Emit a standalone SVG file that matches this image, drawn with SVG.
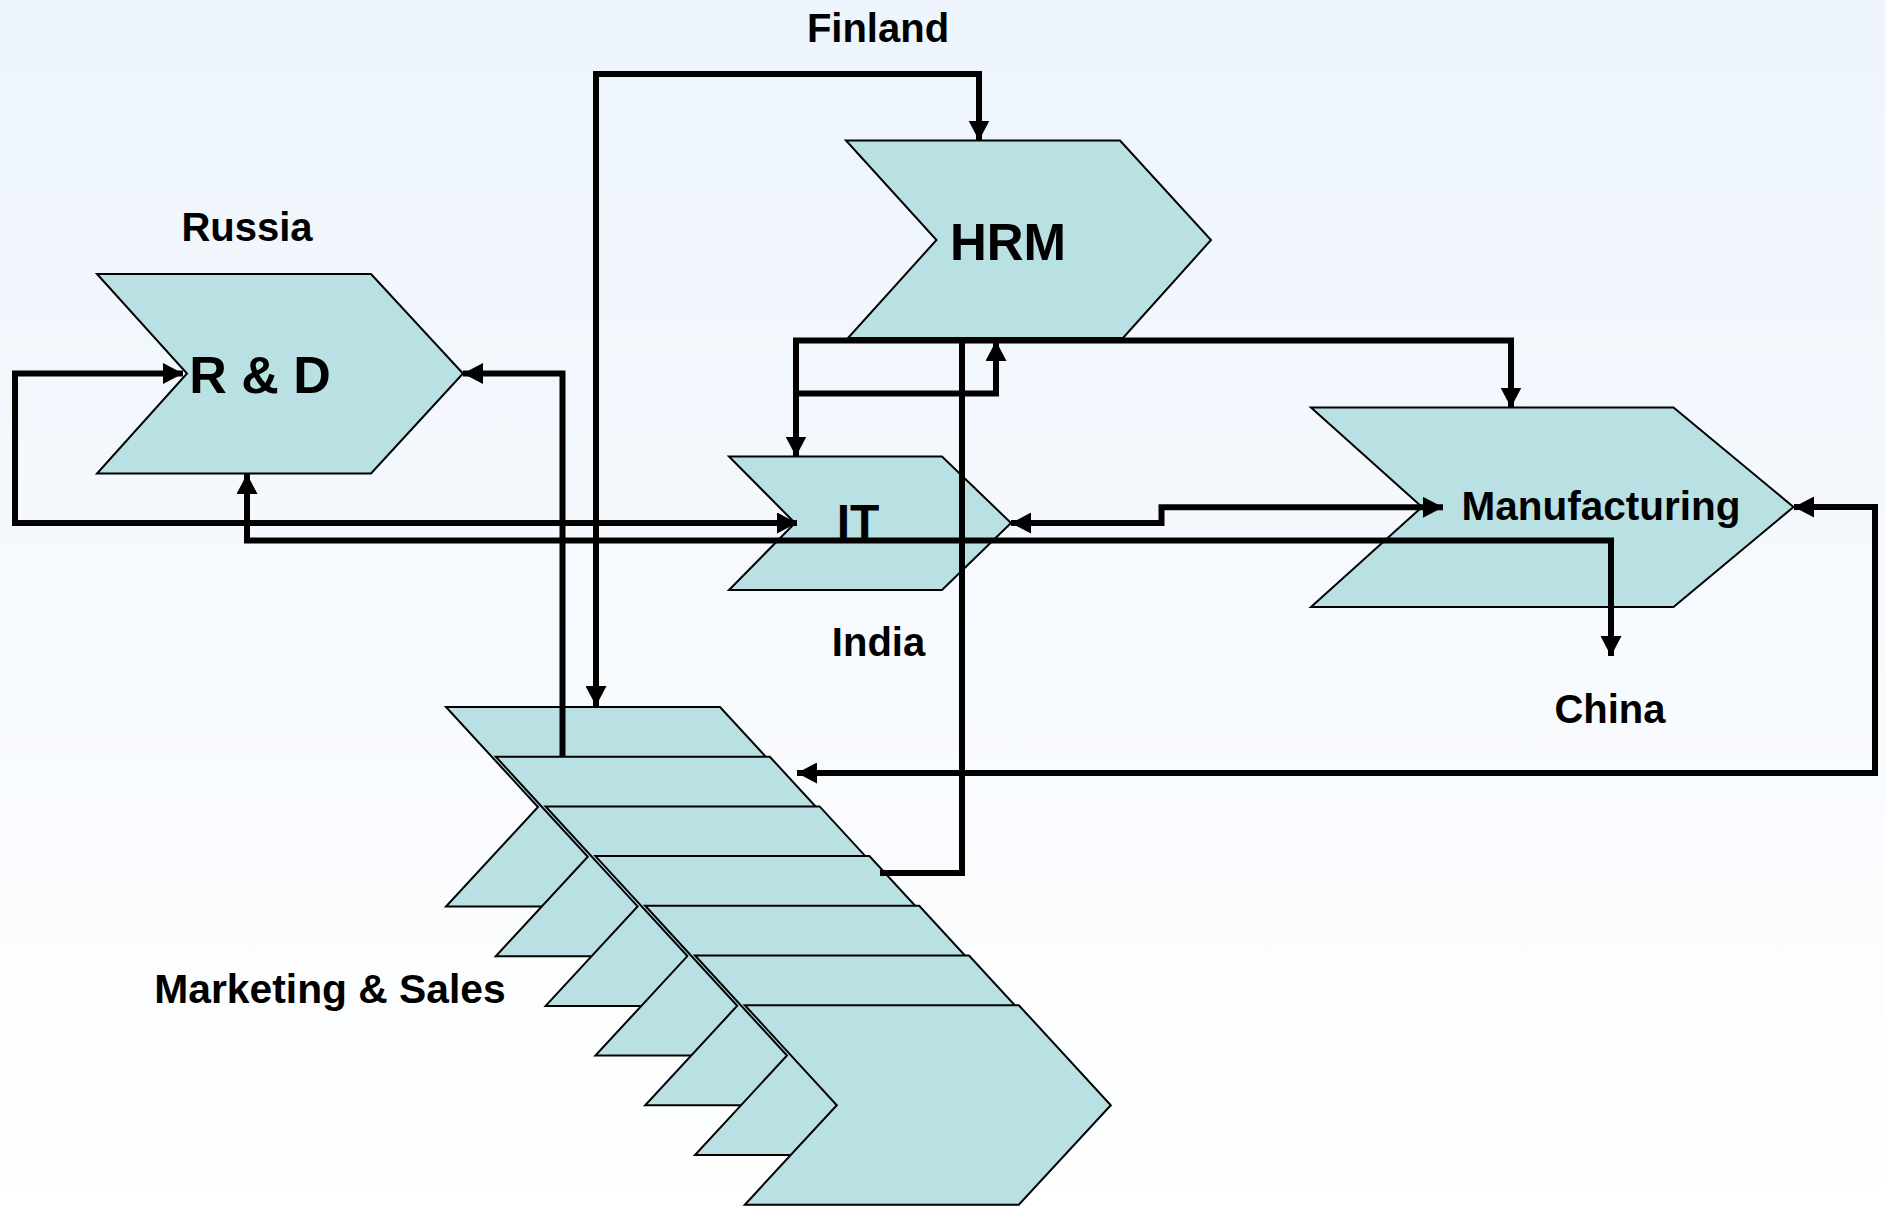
<svg xmlns="http://www.w3.org/2000/svg" width="1885" height="1206" viewBox="0 0 1885 1206">
<style>
.shape{fill:#B9E0E3;stroke:#000;stroke-width:2;stroke-linejoin:miter}
.lbl{font-family:"Liberation Sans",Arial,sans-serif;font-weight:bold;fill:#000;text-anchor:middle}
.conn{fill:none;stroke:#000;stroke-width:6;stroke-linejoin:miter}
</style>
<defs>
<linearGradient id="bg" x1="0" y1="0" x2="0" y2="1">
<stop offset="0" stop-color="#EDF4FC"/>
<stop offset="1" stop-color="#FFFFFF"/>
</linearGradient>
<marker id="ah" markerUnits="userSpaceOnUse" markerWidth="20" markerHeight="21" viewBox="0 0 20 21" refX="20" refY="10.5" orient="auto-start-reverse">
<path d="M0,0 L20,10.5 L0,21 z" fill="#000"/>
</marker>
<polygon id="chev" points="0,0 274,0 366,100 274,199.5 0,199.5 92,100"/>
</defs>
<rect width="1885" height="1206" fill="url(#bg)"/>

<g id="rnd">
<polygon class="shape" points="97,274 371,274 463,373.5 371,473.5 97,473.5 187,373.5"/>
<text class="lbl" x="260" y="393" font-size="52">R &amp; D</text>
<text class="lbl" x="247" y="241" font-size="40">Russia</text>
</g>
<g id="hrm">
<polygon class="shape" points="846,140.5 1120,140.5 1211,240 1123,338 848,338 936.5,240"/>
<text class="lbl" x="1008" y="260" font-size="51">HRM</text>
<text class="lbl" x="878" y="42" font-size="40">Finland</text>
</g>
<g id="it">
<polygon class="shape" points="729,456.5 942,456.5 1011,523 942,590 729,590 795,523"/>
<text class="lbl" x="858" y="538" font-size="48">IT</text>
<text class="lbl" x="878.5" y="656" font-size="40">India</text>
</g>
<g id="manufacturing">
<polygon class="shape" points="1311,407.5 1673.5,407.5 1793.5,507 1673.5,607 1311,607 1422,507"/>
<text class="lbl" x="1601" y="520" font-size="40.5">Manufacturing</text>
<text class="lbl" x="1610" y="723" font-size="40">China</text>
</g>
<g id="marketing">
<use href="#chev" class="shape" x="446" y="707"/>
<use href="#chev" class="shape" x="495.8" y="756.7"/>
<use href="#chev" class="shape" x="545.6" y="806.4"/>
<use href="#chev" class="shape" x="595.4" y="856.1"/>
<use href="#chev" class="shape" x="645.2" y="905.8"/>
<use href="#chev" class="shape" x="695" y="955.5"/>
<use href="#chev" class="shape" x="744.8" y="1005.2"/>
<text class="lbl" x="330" y="1003" font-size="40.8">Marketing &amp; Sales</text>
</g>

<g id="connectors">
<path class="conn" d="M183,373.5 H15 V523 H797" marker-start="url(#ah)" marker-end="url(#ah)"/>
<path class="conn" d="M247,474 V540.5 H1611 V656" marker-start="url(#ah)" marker-end="url(#ah)"/>
<path class="conn" d="M562.5,756.7 V373.5 H463" marker-end="url(#ah)"/>
<path class="conn" d="M596,706 V74 H979 V140.5" marker-start="url(#ah)" marker-end="url(#ah)"/>
<path class="conn" d="M1511,407.5 V340.5 H796 V456.5" marker-start="url(#ah)" marker-end="url(#ah)"/>
<path class="conn" d="M796,393.5 H996 V341" marker-end="url(#ah)"/>
<path class="conn" d="M962,340.5 V873 H880"/>
<path class="conn" d="M1011,523 H1161.5 V507.3 H1443" marker-start="url(#ah)" marker-end="url(#ah)"/>
<path class="conn" d="M1794,507 H1875 V773 H797" marker-start="url(#ah)" marker-end="url(#ah)"/>
</g>
</svg>
